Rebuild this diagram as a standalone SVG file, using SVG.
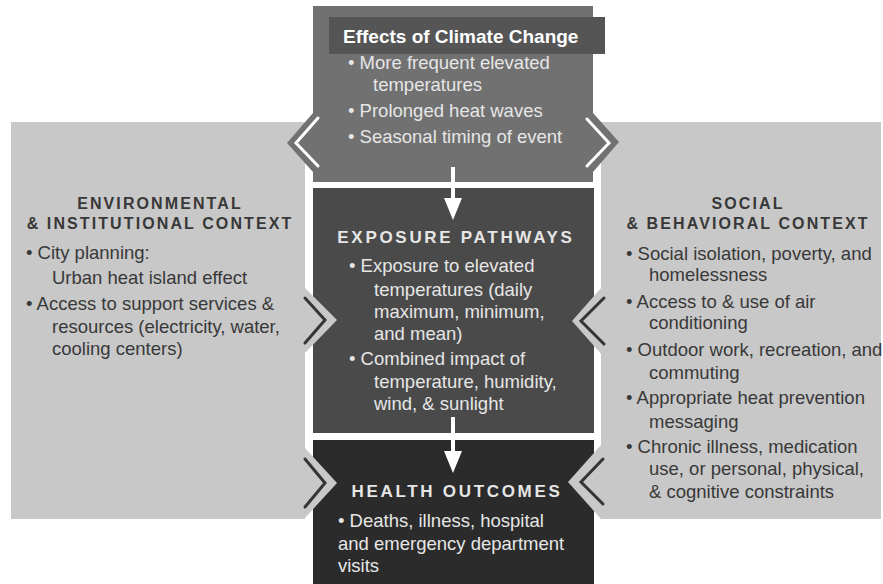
<svg xmlns="http://www.w3.org/2000/svg" width="883" height="584" viewBox="0 0 883 584">
<style>
  .body { font-family: "Liberation Sans", Arial, sans-serif; font-size: 18.5px; }
  .lt { fill: #e6e6e6; }
  .dk { fill: #383838; }
  .ttl { font-family: "Liberation Sans", Arial, sans-serif; font-weight: bold; font-size: 17px; letter-spacing: 2.7px; text-anchor: middle; }
  .ptl { font-family: "Liberation Sans", Arial, sans-serif; font-weight: bold; font-size: 16px; letter-spacing: 2.1px; text-anchor: middle; fill: #383838; }
  .panel { fill: #c8c8c8; }
  .chevD { fill: none; stroke: #353535; stroke-width: 3; stroke-linecap: round; stroke-linejoin: miter; }
  .chevW { fill: none; stroke: #ffffff; stroke-width: 3; stroke-linecap: round; stroke-linejoin: miter; }
</style>
<defs>
  <marker id="ah" viewBox="0 0 10 10" refX="5" refY="5" markerWidth="5" markerHeight="5" orient="auto" markerUnits="strokeWidth">
    <path d="M0,0 L10,5 L0,10 Z" fill="#ffffff"/>
  </marker>
</defs>
<rect width="883" height="584" fill="#ffffff"/>

<g id="exposure">
  <rect x="313" y="188" width="281" height="245" fill="#4a4a4a"/>
  <text class="ttl lt" x="456" y="243">EXPOSURE PATHWAYS</text>
  <text class="body lt" x="349" y="272">• Exposure to elevated</text>
  <text class="body lt" x="374" y="296">temperatures (daily</text>
  <text class="body lt" x="374" y="318">maximum, minimum,</text>
  <text class="body lt" x="374" y="340">and mean)</text>
  <text class="body lt" x="349" y="365">• Combined impact of</text>
  <text class="body lt" x="374" y="388">temperature, humidity,</text>
  <text class="body lt" x="374" y="410">wind, &amp; sunlight</text>
</g>

<g id="health">
  <rect x="313" y="440" width="281" height="144" fill="#2b2b2b"/>
  <text class="ttl lt" x="457" y="497">HEALTH OUTCOMES</text>
  <text class="body lt" x="338" y="527">• Deaths, illness, hospital</text>
  <text class="body lt" x="338" y="550">and emergency department</text>
  <text class="body lt" x="338" y="572">visits</text>
</g>

<g id="env-context">
  <rect class="panel" x="11" y="122" width="294" height="397"/>
  <polygon class="panel" points="304,287 337,320 304,354"/>
  <polygon class="panel" points="304,447 337,483 304,519"/>
  <polyline class="chevD" points="305,298 325,320 305,343"/>
  <polyline class="chevD" points="305,459 325,483 305,507"/>
  <text class="ptl" x="160" y="209">ENVIRONMENTAL</text>
  <text class="ptl" x="160" y="229">&amp; INSTITUTIONAL CONTEXT</text>
  <text class="body dk" x="26" y="259">• City planning:</text>
  <text class="body dk" x="52" y="284">Urban heat island effect</text>
  <text class="body dk" x="26" y="310">• Access to support services &amp;</text>
  <text class="body dk" x="52" y="333">resources (electricity, water,</text>
  <text class="body dk" x="52" y="355">cooling centers)</text>
</g>

<g id="social-context">
  <rect class="panel" x="601" y="122" width="280" height="397"/>
  <polygon class="panel" points="602,287 572,321 602,355"/>
  <polygon class="panel" points="602,444 568,482 602,520"/>
  <polyline class="chevD" points="604,298 581,321 604,344"/>
  <polyline class="chevD" points="603,459 581,482 603,504"/>
  <text class="ptl" x="748" y="209">SOCIAL</text>
  <text class="ptl" x="748" y="229">&amp; BEHAVIORAL CONTEXT</text>
  <text class="body dk" x="626" y="260">• Social isolation, poverty, and</text>
  <text class="body dk" x="649" y="281">homelessness</text>
  <text class="body dk" x="626" y="308">• Access to &amp; use of air</text>
  <text class="body dk" x="649" y="329">conditioning</text>
  <text class="body dk" x="626" y="356">• Outdoor work, recreation, and</text>
  <text class="body dk" x="649" y="379">commuting</text>
  <text class="body dk" x="626" y="404">• Appropriate heat prevention</text>
  <text class="body dk" x="649" y="428">messaging</text>
  <text class="body dk" x="626" y="453">• Chronic illness, medication</text>
  <text class="body dk" x="649" y="475">use, or personal, physical,</text>
  <text class="body dk" x="649" y="498">&amp; cognitive constraints</text>
</g>

<g id="effects">
  <polygon points="313,6 593,6 593,113 619,142 593,172 593,182 313,182 313,172 287,143 313,113" fill="#717171"/>
  <polyline class="chevW" points="318,118 296,143 318,166"/>
  <polyline class="chevW" points="587,119 609,143 587,166"/>
  <rect x="329" y="17" width="276" height="37" fill="#555555"/>
  <text x="343" y="43" font-family="'Liberation Sans', Arial, sans-serif" font-weight="bold" font-size="19" fill="#ffffff">Effects of Climate Change</text>
  <text class="body lt" x="348" y="69">• More frequent elevated</text>
  <text class="body lt" x="373" y="91">temperatures</text>
  <text class="body lt" x="348" y="117">• Prolonged heat waves</text>
  <text class="body lt" x="348" y="143">• Seasonal timing of event</text>
</g>

<g id="connectors">
  <line x1="453" y1="167" x2="453" y2="202" stroke="#ffffff" stroke-width="4"/>
  <polygon points="444,198 462,198 453,220" fill="#ffffff"/>
  <line x1="453" y1="417" x2="453" y2="454" stroke="#ffffff" stroke-width="4"/>
  <polygon points="444,451 462,451 453,473" fill="#ffffff"/>
</g>
</svg>
